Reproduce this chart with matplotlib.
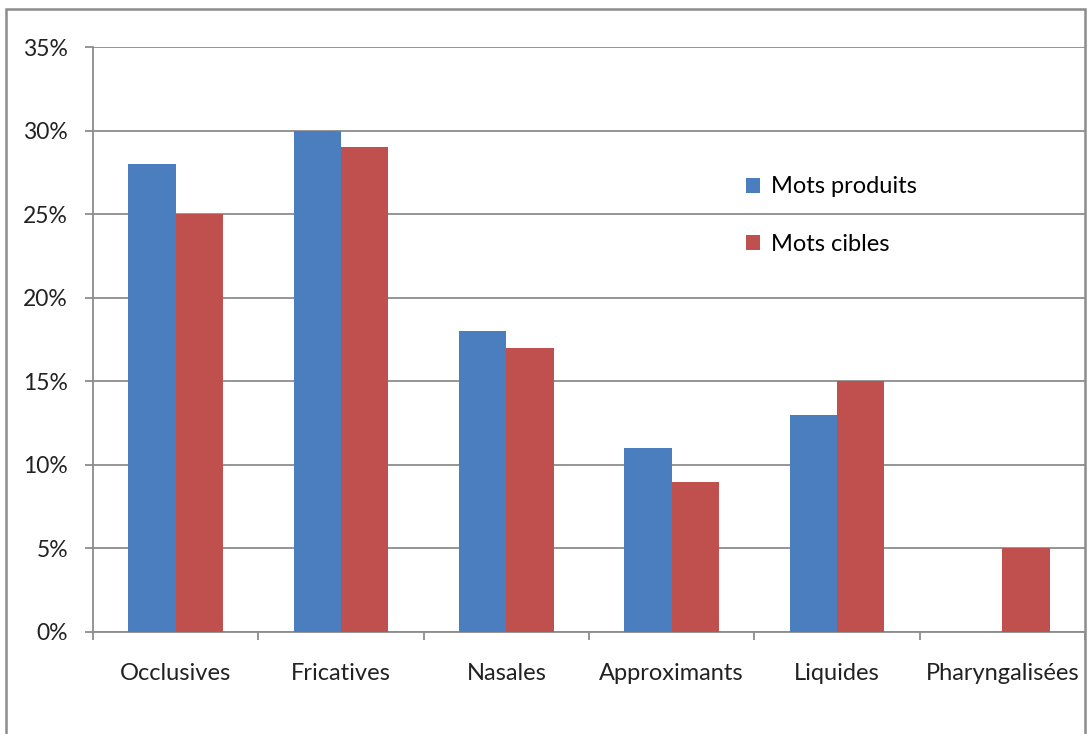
import matplotlib.pyplot as plt
import matplotlib.patches as mp
import numpy as np

plt.rcParams['font.family'] = ['Lato', 'DejaVu Sans']

categories = ["Occlusives", "Fricatives", "Nasales", "Approximants", "Liquides", "Pharyngalisées"]
produits = [28, 30, 18, 11, 13, 0]
cibles = [25, 29, 17, 9, 15, 5]
series_names = ["Mots produits", "Mots cibles"]

blue = "#4A7EBF"
red = "#C0504D"
gray = "#8C8C8C"

fig = plt.figure(figsize=(10.91, 7.34), dpi=100)
ax = fig.add_axes([93 / 1091, 102 / 734, 992 / 1091, 585 / 734])

# outer chart frame
fig.patches.append(mp.Rectangle((6 / 1091, -0.05), 1079 / 1091, 1.05 - 9 / 734,
                                transform=fig.transFigure, fill=False,
                                edgecolor=gray, linewidth=1.8))

x = np.arange(len(categories))
w = 0.287
ax.bar(x - w / 2, produits, w, color=blue, label=series_names[0], zorder=3)
ax.bar(x + w / 2, cibles, w, color=red, label=series_names[1], zorder=3)

ax.set_xlim(-0.5, len(categories) - 0.5)
ax.set_ylim(0, 35)
ax.set_yticks(range(0, 36, 5))
ax.set_yticklabels([f"{v}%" for v in range(0, 36, 5)])
ax.yaxis.grid(True, color=gray, linewidth=1.3, zorder=0)

ax.set_xticks(x)
ax.set_xticklabels(categories)
ax.set_xticks(np.arange(-0.5, len(categories), 1), minor=True)
ax.tick_params(axis='x', which='major', length=0, pad=22, labelsize=17, colors="#222222")
ax.tick_params(axis='x', which='minor', length=6, width=1.3, color=gray, direction='out')
ax.tick_params(axis='y', length=6, width=1.3, color=gray, pad=12, labelsize=16.5, labelcolor="#222222")

for s in ["top", "right"]:
    ax.spines[s].set_visible(False)
for s in ["left", "bottom"]:
    ax.spines[s].set_color(gray)
    ax.spines[s].set_linewidth(1.3)

leg = ax.legend(loc="upper left", bbox_to_anchor=(0.637, 0.815), frameon=False,
                fontsize=17, handlelength=0.6, handleheight=0.6, handletextpad=0.45,
                labelspacing=1.55)

plt.savefig("out.png", dpi=100)
